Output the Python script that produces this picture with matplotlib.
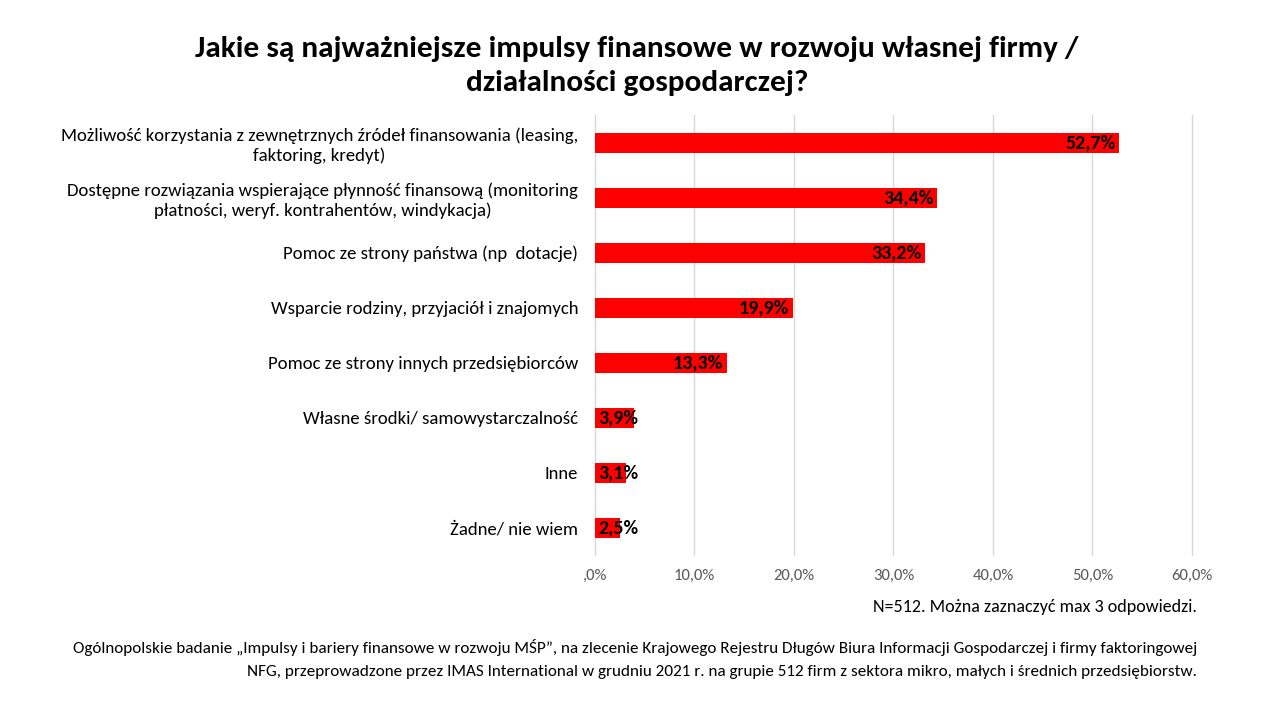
import matplotlib.pyplot as plt
from matplotlib.ticker import FuncFormatter

plt.rcParams['font.family'] = ['Carlito', 'Liberation Sans Narrow', 'Liberation Sans', 'DejaVu Sans']

# dane z wykresu
categories = [
    "Możliwość korzystania z zewnętrznych źródeł finansowania (leasing,\nfaktoring, kredyt)",
    "Dostępne rozwiązania wspierające płynność finansową (monitoring\npłatności, weryf. kontrahentów, windykacja)",
    "Pomoc ze strony państwa (np  dotacje)",
    "Wsparcie rodziny, przyjaciół i znajomych",
    "Pomoc ze strony innych przedsiębiorców",
    "Własne środki/ samowystarczalność",
    "Inne",
    "Żadne/ nie wiem",
]
values = [52.7, 34.4, 33.2, 19.9, 13.3, 3.9, 3.1, 2.5]
x_ticks = [0, 10, 20, 30, 40, 50, 60]

title = "Jakie są najważniejsze impulsy finansowe w rozwoju własnej firmy /\ndziałalności gospodarczej?"
note = "N=512. Można zaznaczyć max 3 odpowiedzi."
source1 = "Ogólnopolskie badanie „Impulsy i bariery finansowe w rozwoju MŚP”, na zlecenie Krajowego Rejestru Długów Biura Informacji Gospodarczej i firmy faktoringowej"
source2 = "NFG, przeprowadzone przez IMAS International w grudniu 2021 r. na grupie 512 firm z sektora mikro, małych i średnich przedsiębiorstw."

fig = plt.figure(figsize=(12.8, 7.2), dpi=100)
ax = fig.add_axes([0.4648, 0.229, 0.4664, 0.611])

pos = list(range(len(values)))
ax.barh(pos, values, height=0.36, color='#ff0000', zorder=3)

ax.set_xlim(0, 60)
ax.set_ylim(len(values) - 0.5, -0.5)
ax.set_xticks(x_ticks)
ax.xaxis.set_major_formatter(FuncFormatter(
    lambda v, p: ",0%" if v == 0 else f"{v:.1f}%".replace(".", ",")))
ax.tick_params(axis='x', length=0, labelsize=12, labelcolor='#595959', pad=10)
ax.set_yticks(pos)
ax.set_yticklabels(categories, fontsize=13.5, multialignment='center',
                   linespacing=1.25)
ax.tick_params(axis='y', length=0, pad=12)
ax.grid(axis='x', color='#d9d9d9', linewidth=1, zorder=0)
for gl in ax.get_xgridlines():
    gl.set_clip_on(False)
for s in ax.spines.values():
    s.set_visible(False)

# etykiety wartości
for i, v in enumerate(values):
    lab = f"{v:.1f}%".replace(".", ",")
    if v > 8:
        ax.text(v - 0.4, i, lab, ha='right', va='center', fontsize=14.5,
                fontweight='bold', zorder=4)
    else:
        ax.text(0.3, i, lab, ha='left', va='center', fontsize=14.5,
                fontweight='bold', zorder=4)

fig.text(0.4977, 0.908, title, ha='center', va='center', fontsize=22.5,
         fontweight='bold', linespacing=1.4)
fig.text(0.935, 0.157, note, ha='right', va='center', fontsize=13)
fig.text(0.935, 0.100, source1, ha='right', va='center', fontsize=12.3)
fig.text(0.935, 0.067, source2, ha='right', va='center', fontsize=12.3)

fig.savefig('out.png', dpi=100)
